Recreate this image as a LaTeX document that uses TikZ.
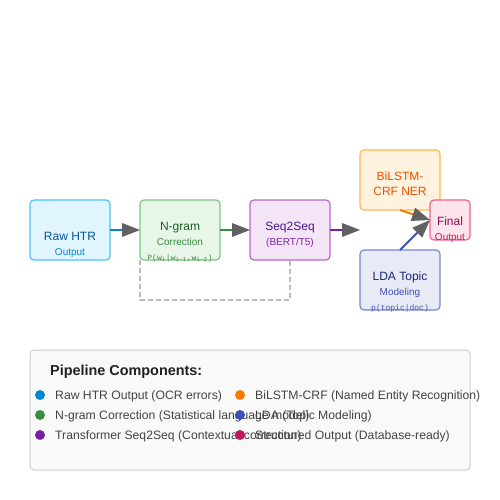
\documentclass[tikz,border=0pt]{standalone}
\usepackage{fontspec}
\setmainfont{Liberation Sans}
\setmonofont{Liberation Mono}
\usetikzlibrary{arrows.meta}
\definecolor{rawfill}{HTML}{E1F5FE}\definecolor{rawdraw}{HTML}{4FC3F7}
\definecolor{rawtitle}{HTML}{01579B}\definecolor{rawsub}{HTML}{0288D1}
\definecolor{ngfill}{HTML}{E8F5E9}\definecolor{ngdraw}{HTML}{81C784}
\definecolor{ngtitle}{HTML}{1B5E20}\definecolor{ngsub}{HTML}{388E3C}
\definecolor{sqfill}{HTML}{F3E5F5}\definecolor{sqdraw}{HTML}{BA68C8}
\definecolor{sqtitle}{HTML}{4A148C}\definecolor{sqsub}{HTML}{7B1FA2}
\definecolor{bifill}{HTML}{FFF3E0}\definecolor{bidraw}{HTML}{FFB74D}
\definecolor{bititle}{HTML}{E65100}\definecolor{bisub}{HTML}{F57C00}
\definecolor{ldfill}{HTML}{E8EAF6}\definecolor{lddraw}{HTML}{7986CB}
\definecolor{ldtitle}{HTML}{1A237E}\definecolor{ldsub}{HTML}{3F51B5}
\definecolor{fifill}{HTML}{FCE4EC}\definecolor{fidraw}{HTML}{F06292}
\definecolor{fititle}{HTML}{880E4F}\definecolor{fisub}{HTML}{C2185B}
\definecolor{arrowgray}{HTML}{616161}
\definecolor{dashgray}{HTML}{BDBDBD}
\definecolor{legfill}{HTML}{F9F9F9}\definecolor{legdraw}{HTML}{CCCCCC}
\definecolor{legtext}{HTML}{444444}\definecolor{legtitle}{HTML}{212121}
\begin{document}
\begin{tikzpicture}[x=1pt,y=-1pt,
  stagebox/.style={draw, rounded corners=4pt, line width=1.2pt, inner sep=0pt, outer sep=0pt, anchor=north west},
  titletext/.style={anchor=base, inner sep=0pt, font=\fontsize{12}{14}\selectfont},
  subtext/.style={anchor=base, inner sep=0pt, font=\fontsize{10}{12}\selectfont},
  formtext/.style={anchor=base, inner sep=0pt, font=\ttfamily\fontsize{8}{9}\selectfont},
  conn/.style={line width=2pt, -{Triangle[length=18pt,width=14pt,line width=0pt,color=arrowgray]}},
  legdot/.style={circle, fill, inner sep=0pt, minimum size=10pt},
  legitem/.style={anchor=base west, inner sep=0pt, text=legtext, font=\fontsize{12.2}{14}\selectfont}]
\fill[white] (0,0) rectangle (500,500);
\useasboundingbox (0,0) rectangle (500,500);

% stage boxes
\node[stagebox, fill=rawfill, draw=rawdraw, minimum width=80pt, minimum height=60pt] (raw) at (30,200) {};
\node[stagebox, fill=ngfill, draw=ngdraw, minimum width=80pt, minimum height=60pt] (ngram) at (140,200) {};
\node[stagebox, fill=sqfill, draw=sqdraw, minimum width=80pt, minimum height=60pt] (seq) at (250,200) {};
\node[stagebox, fill=bifill, draw=bidraw, minimum width=80pt, minimum height=60pt] (bilstm) at (360,150) {};
\node[stagebox, fill=ldfill, draw=lddraw, minimum width=80pt, minimum height=60pt] (lda) at (360,250) {};
\node[stagebox, fill=fifill, draw=fidraw, minimum width=40pt, minimum height=40pt] (final) at (430,200) {};

% texts
\node[titletext, text=rawtitle] (rawt) at (70,240) {Raw HTR};
\node[subtext, text=rawsub] (raws) at (70,255) {Output};
\node[titletext, text=ngtitle] (ngt) at (180,230) {N-gram};
\node[subtext, text=ngsub] (ngs) at (180,245) {Correction};
\node[formtext, text=ngsub] (ngf) at (180,260) {P(w\textsubscript{i}|w\textsubscript{i-1},w\textsubscript{i-2})};
\node[titletext, text=sqtitle] (sqt) at (290,230) {Seq2Seq};
\node[subtext, text=sqsub] (sqs) at (290,245) {(BERT/T5)};
\node[titletext, text=bititle] (bit1) at (400,180) {BiLSTM-};
\node[titletext, text=bititle] (bit2) at (400,195) {CRF NER};
\node[titletext, text=ldtitle] (ldt) at (400,280) {LDA Topic};
\node[subtext, text=ldsub] (lds) at (400,295) {Modeling};
\node[formtext, text=ldsub] (ldf) at (400,310) {p(topic|doc)};
\node[titletext, text=fititle] (fit) at (450,225) {Final};
\node[subtext, text=fisub] (fis) at (450,240) {Output};

% connectors
\coordinate (seqend) at (360,230);
\draw[conn, rawsub] (raw.east) -- (ngram.west);
\draw[conn, ngsub] (ngram.east) -- (seq.west);
\draw[conn, sqsub] (seq.east) -- (seqend);
\draw[conn, bisub] (bilstm.south) -- (final.west);
\draw[conn, ldsub] (lda.north) -- (final.west);
\draw[dashgray, line width=1.2pt, dash pattern=on 5pt off 3pt] (ngram.south west) -- ++(0,40) -| (seq.south);

% legend
\node[draw=legdraw, fill=legfill, rounded corners=4pt, line width=1pt, inner sep=0pt, outer sep=0pt, anchor=north west, minimum width=440pt, minimum height=120pt] (legend) at (30,350) {};
\node[anchor=base west, inner sep=0pt, text=legtitle, font=\bfseries\fontsize{14.4}{16}\selectfont] (legt) at (50,375) {Pipeline Components:};
\node[legdot, rawsub] (d1) at (40,395) {};
\node[legitem] (l1) at (55,399) {Raw HTR Output (OCR errors)};
\node[legdot, ngsub] (d2) at (40,415) {};
\node[legitem] (l2) at (55,419) {N-gram Correction (Statistical language model)};
\node[legdot, sqsub] (d3) at (40,435) {};
\node[legitem] (l3) at (55,439) {Transformer Seq2Seq (Contextual correction)};
\node[legdot, bisub] (d4) at (240,395) {};
\node[legitem] (l4) at (255,399) {BiLSTM-CRF (Named Entity Recognition)};
\node[legdot, ldsub] (d5) at (240,415) {};
\node[legitem] (l5) at (255,419) {LDA (Topic Modeling)};
\node[legdot, fisub] (d6) at (240,435) {};
\node[legitem] (l6) at (255,439) {Structured Output (Database-ready)};
\end{tikzpicture}
\end{document}
